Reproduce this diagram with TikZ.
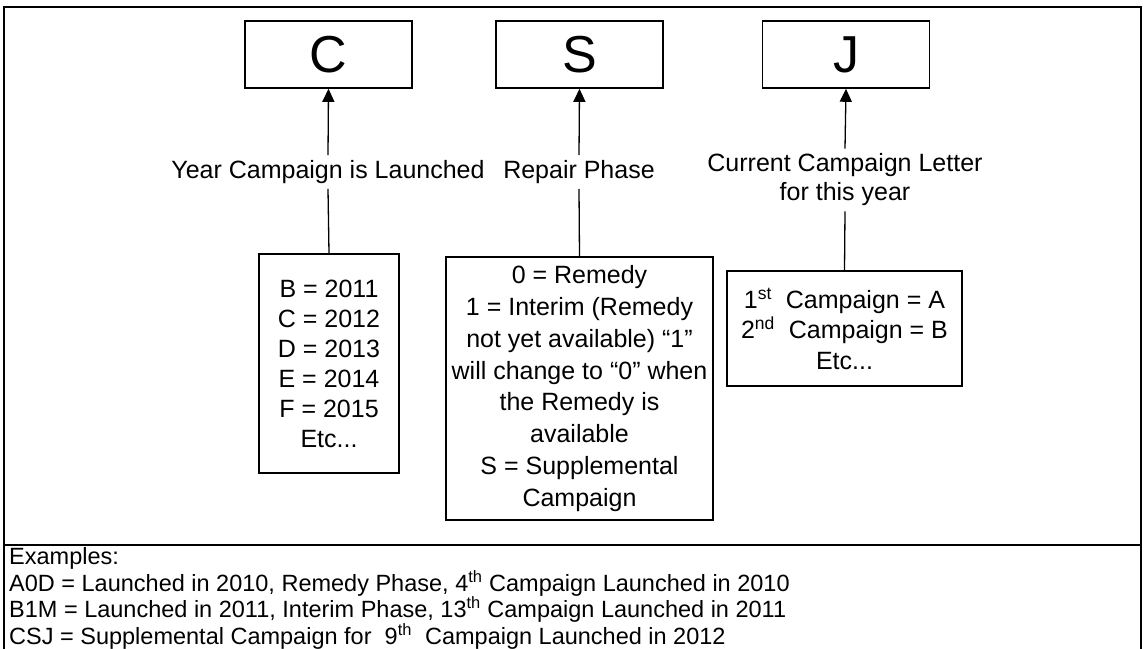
\documentclass[tikz,border=0pt]{standalone}
\usepackage{fontspec}
\setmainfont{Liberation Sans}
\usetikzlibrary{arrows.meta}
\begin{document}
\begin{tikzpicture}[x=1pt,y=-1pt,
  frameline/.style={line width=1.5pt},
  sepline/.style={line width=2.6pt},
  topbox/.style={draw,line width=1.6pt,minimum width=167pt,minimum height=67pt,inner sep=0pt,font=\fontsize{52}{52}\selectfont},
  infobox/.style={draw,line width=1.3pt,align=center,inner sep=0pt},
  lbl/.style={align=center,inner sep=5pt,font=\fontsize{25}{29}\selectfont},
  link/.style={line width=1.3pt},
  arr/.style={line width=1.3pt,-{Triangle[length=13pt,width=12pt]}}]
\useasboundingbox (0,0) rectangle (1146,648);
\clip (0,0) rectangle (1146,648);
% frame
\draw[frameline] (4,7) -- (4,660);
\draw[frameline] (1141,7) -- (1141,660);
\draw[sepline] (3,7) -- (1142,7);
\draw[sepline] (3,545) -- (1142,545);
% top boxes
\node[topbox] (C) at (328.5,54.5) {C};
\node[topbox] (S) at (579.5,54.5) {S};
\node[topbox] (J) at (846,54.5) {J};
% labels
\node[lbl] (Lc) at (328,172) {Year Campaign is Launched};
\node[lbl] (Ls) at (579,172) {Repair Phase};
\node[lbl] (Lj) at (845,180) {Current Campaign Letter\\for this year};
% lower boxes
\node[infobox,minimum width=140pt,minimum height=219pt,font=\fontsize{25}{30}\selectfont] (Bb) at (329,363.5)
  {B = 2011\\C = 2012\\D = 2013\\E = 2014\\F = 2015\\Etc...};
\node[infobox,minimum width=267pt,minimum height=263pt,font=\fontsize{25}{31.8}\selectfont] (Sb) at (579.5,388.5)
  {0 = Remedy\\1 = Interim (Remedy\\not yet available) “1”\\will change to “0” when\\the Remedy is\\available\\S = Supplemental\\Campaign};
\node[infobox,minimum width=235pt,minimum height=115pt,font=\fontsize{25}{30.5}\selectfont] (Jb) at (844.5,328.5)
  {1\textsuperscript{st}\ \ Campaign = A\\2\textsuperscript{nd}\ \ Campaign = B\\Etc...};
% connectors
\draw[link] (Bb.north) -- (Lc.south);
\draw[arr] (Lc.north) -- (C.south);
\draw[link] (Sb.north) -- (Ls.south);
\draw[arr] (Ls.north) -- (S.south);
\draw[link] (Jb.north) -- (Lj.south);
\draw[arr] (Lj.north) -- (J.south);
% examples
\node[anchor=north west,align=left,inner sep=0pt,font=\fontsize{23.5}{24.2}\selectfont] (ex) at (9,547)
  {Examples:\\
   A0D = Launched in 2010, Remedy Phase, 4\textsuperscript{th} Campaign Launched in 2010\\
   B1M = Launched in 2011, Interim Phase, 13\textsuperscript{th} Campaign Launched in 2011\\
   CSJ = Supplemental Campaign for\ \ 9\textsuperscript{th}\ \ Campaign Launched in 2012};
\end{tikzpicture}
\end{document}
